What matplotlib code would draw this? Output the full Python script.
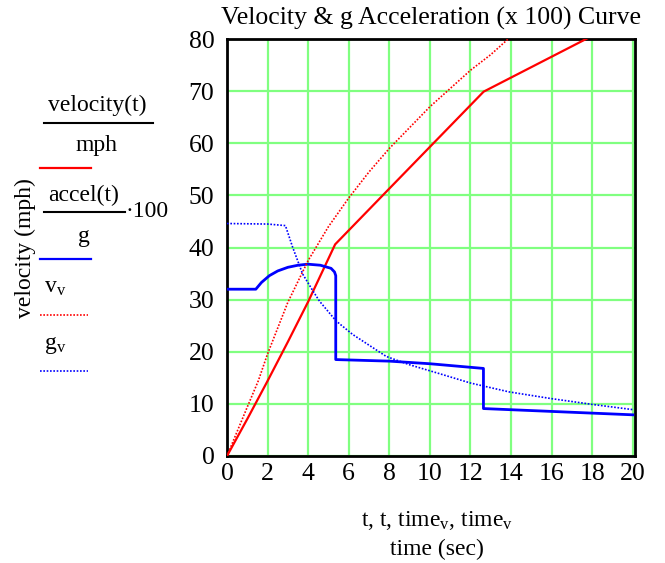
import numpy as np
import matplotlib
matplotlib.use("Agg")
import matplotlib.pyplot as plt
from matplotlib.lines import Line2D

plt.rcParams['font.family'] = ['Liberation Serif', 'DejaVu Serif']
plt.rcParams['mathtext.fontset'] = 'custom'
plt.rcParams['mathtext.rm'] = 'Liberation Serif'
plt.rcParams['mathtext.it'] = 'Liberation Serif:italic'

# velocity(t)/mph  (solid red)
t_vel = [0, 1.0, 2.0, 3.0, 4.0, 5.33, 8.0, 12.65, 20]
vel = [0, 7.1, 14.4, 21.9, 29.6, 40.6, 51.3, 69.9, 84.6]

# accel(t)/g * 100  (solid blue)
t_acc = [0, 1.42, 1.7, 2.09, 2.5, 3.0, 3.5, 3.98, 4.6, 5.13, 5.3, 5.36, 5.36, 8, 10, 12.64, 12.64, 20]
acc = [32.0, 32.0, 33.3, 34.6, 35.5, 36.2, 36.6, 36.8, 36.6, 36.0, 35.3, 34.6, 18.5, 18.2, 17.7, 16.8, 9.1, 7.9]

# v_v  (dotted red)
t_vv = [0, 1, 1.54, 2, 3, 4, 5, 6, 7, 8, 9, 10, 11, 12, 13, 14]
vv = [0, 9.4, 14.4, 19.6, 29.5, 37.5, 44, 49.5, 54.5, 59, 63, 67, 70.5, 74, 77, 80.5]

# g_v  (dotted blue)
t_gv = [0, 2.0, 2.88, 3.24, 3.73, 4.23, 4.56, 5.38, 6.2, 7.85, 9, 10.47, 12, 13.9, 16, 18, 20]
gv = [44.6, 44.5, 44.2, 40.0, 34.9, 31.7, 29.7, 25.9, 23.3, 19.1, 17.5, 15.8, 14.0, 12.3, 11.0, 9.9, 8.9]

xticks = np.arange(0, 21, 2)
yticks = np.arange(0, 81, 10)

W, H = 665, 563
fig = plt.figure(figsize=(W / 100, H / 100), dpi=100)


def px(x, y):
    return x / W, 1 - y / H


ax = fig.add_axes([227 / W, 1 - 456 / H, (635 - 227) / W, (456 - 39) / H])
ax.plot(t_vel, vel, color='#ff0000', lw=1.6, zorder=3)
ax.plot(t_acc, acc, color='#0000ff', lw=2.0, zorder=3)
ax.plot(t_vv, vv, color='#ff0000', lw=1.2, ls=(0, (1, 1)), zorder=3)
ax.plot(t_gv, gv, color='#0000ff', lw=1.2, ls=(0, (1, 1)), zorder=3)

ax.set_xlim(0, 20.11)
ax.set_ylim(0, 80)
ax.set_xticks(xticks)
ax.set_yticks(yticks)
ax.grid(True, color='#80ff80', lw=1.6)
ax.set_axisbelow(True)
ax.tick_params(length=0, labelsize=18.5, pad=9)
ax.tick_params(axis='x', pad=5)
for s in ax.spines.values():
    s.set_linewidth(2)
    s.set_color('black')

fig.text(*px(431, 18), "Velocity & g Acceleration (x 100) Curve", fontsize=18.5,
         ha='center', va='center')

# left "legend" in Mathcad style
fs = 17
fig.text(*px(97, 105), "velocity(t)", fontsize=fs, ha='center', va='center')
fig.add_artist(Line2D([px(44, 0)[0], px(153, 0)[0]], [px(0, 123)[1]] * 2, color='black', lw=1.5))
fig.text(*px(97, 146), "mph", fontsize=fs, ha='center', va='center')
fig.add_artist(Line2D([px(40, 0)[0], px(91, 0)[0]], [px(0, 168)[1]] * 2, color='#ff0000', lw=1.6))

fig.text(*px(84, 195), "accel(t)", fontsize=fs, ha='center', va='center')
fig.add_artist(Line2D([px(44, 0)[0], px(125, 0)[0]], [px(0, 212)[1]] * 2, color='black', lw=1.5))
fig.text(*px(126, 211), "\u00b7100", fontsize=fs, ha='left', va='center')
fig.text(*px(84, 236), "g", fontsize=fs, ha='center', va='center')
fig.add_artist(Line2D([px(40, 0)[0], px(91, 0)[0]], [px(0, 259)[1]] * 2, color='#0000ff', lw=1.6))

fig.text(*px(44, 288), r"v$_{\mathrm{v}}$", fontsize=fs, ha='left', va='center')
fig.add_artist(Line2D([px(40, 0)[0], px(88, 0)[0]], [px(0, 315)[1]] * 2, color='#ff0000',
                      lw=1.2, ls=(0, (1, 1))))
fig.text(*px(44, 345), r"g$_{\mathrm{v}}$", fontsize=fs, ha='left', va='center')
fig.add_artist(Line2D([px(40, 0)[0], px(88, 0)[0]], [px(0, 371)[1]] * 2, color='#0000ff',
                      lw=1.2, ls=(0, (1, 1))))

fig.text(*px(25, 248), "velocity (mph)", fontsize=fs, rotation=90, ha='center', va='center')

fig.text(*px(437, 520), r"t, t, time$_{\mathrm{v}}$, time$_{\mathrm{v}}$", fontsize=fs,
         ha='center', va='center')
fig.text(*px(437, 549), "time (sec)", fontsize=fs, ha='center', va='center')

fig.savefig("out.png", dpi=100)
